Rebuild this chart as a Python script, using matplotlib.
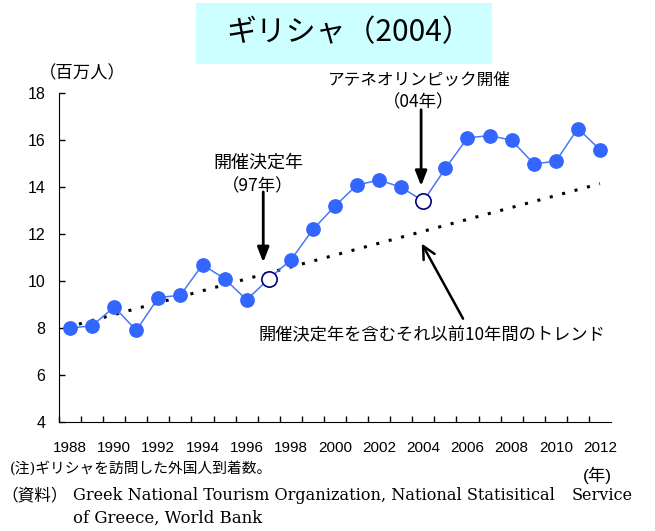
import matplotlib
matplotlib.use('Agg')
import matplotlib.pyplot as plt
from matplotlib.patches import Rectangle

# Font setup
JP_SANS = ['Liberation Sans', 'Noto Sans CJK JP']
JP_SERIF = ['DejaVu Serif', 'Noto Sans CJK JP']
CJK = ['Noto Sans CJK JP']
plt.rcParams['font.family'] = JP_SANS

# =========================
# Data (million arrivals)
# =========================
years = [1988, 1989, 1990, 1991, 1992, 1993, 1994, 1995, 1996, 1997, 1998, 1999,
         2000, 2001, 2002, 2003, 2004, 2005, 2006, 2007, 2008, 2009, 2010, 2011, 2012]
arrivals = [8.0, 8.1, 8.9, 7.9, 9.3, 9.4, 10.7, 10.1, 9.2, 10.1, 10.9, 12.2,
            13.2, 14.1, 14.3, 14.0, 13.4, 14.8, 16.1, 16.2, 16.0, 15.0, 15.1, 16.5, 15.6]
highlight_years = [1997, 2004]

# trend line (10 years up to decision year, extended)
trend_years = [1988.4, 2012]
trend_values = [8.17, 14.15]

xtick_years = list(range(1988, 2013, 2))
yticks = [4, 6, 8, 10, 12, 14, 16, 18]

# Colors
blue = '#3366FF'
line_blue = '#4A78F5'
navy = '#000080'

fig = plt.figure(figsize=(6.55, 5.31), dpi=100)
ax = fig.add_axes([0.0901, 0.2053, 0.8427, 0.619])

# trend
ax.plot(trend_years, trend_values, color='black', lw=2.2,
        linestyle=(0, (1, 3.2)), zorder=2)

# main series
ax.plot(years, arrivals, color=line_blue, lw=1.1, marker='o', ms=9.6,
        mfc=blue, mec=blue, zorder=3)

# open markers for key years
hx = [y for y in years if y in highlight_years]
hy = [v for y, v in zip(years, arrivals) if y in highlight_years]
ax.plot(hx, hy, linestyle='none', marker='o', ms=11, mfc='white',
        mec=navy, mew=1.2, zorder=4)

# Axes styling
ax.set_xlim(1987.5, 2012.5)
ax.set_ylim(4, 18)
ax.set_yticks(yticks)
ax.set_xticks(xtick_years)
ax.set_xticks([y + 0.5 for y in range(1987, 2012)], minor=True)
ax.spines['top'].set_visible(False)
ax.spines['right'].set_visible(False)
ax.tick_params(axis='y', direction='in', length=4, width=1, pad=10, labelsize=11.5)
ax.tick_params(axis='x', which='major', length=0, pad=14, labelsize=11)
ax.tick_params(axis='x', which='minor', direction='in', length=4, width=1)

# Annotations
ax.annotate('', xy=(1996.75, 10.8), xytext=(1996.75, 13.8),
            arrowprops=dict(arrowstyle='-|>,head_length=0.9,head_width=0.35',
                            color='black', lw=2, shrinkA=0, shrinkB=0,
                            mutation_scale=10))
ax.annotate('', xy=(2003.9, 14.05), xytext=(2003.9, 17.3),
            arrowprops=dict(arrowstyle='-|>,head_length=0.9,head_width=0.35',
                            color='black', lw=2, shrinkA=0, shrinkB=0,
                            mutation_scale=10))
ax.annotate('', xy=(2003.93, 11.6), xytext=(2005.8, 8.4),
            arrowprops=dict(arrowstyle='->,head_length=0.9,head_width=0.45',
                            color='black', lw=1.8, shrinkA=0, shrinkB=0,
                            mutation_scale=10))

fig.text(258 / 655, 1 - 163 / 531, '開催決定年', ha='center', va='center',
         fontsize=13, family=CJK)
fig.text(258 / 655, 1 - 186 / 531, '（97年）', ha='center', va='center',
         fontsize=12.5, family=CJK)
fig.text(419 / 655, 1 - 80 / 531, 'アテネオリンピック開催', ha='center',
         va='center', fontsize=12, family=CJK)
fig.text(419 / 655, 1 - 102 / 531, '（04年）', ha='center', va='center',
         fontsize=12.5, family=CJK)
fig.text(258 / 655, 1 - 335 / 531, '開催決定年を含むそれ以前10年間のトレンド',
         ha='left', va='center', fontsize=12.4, family=CJK)
fig.text(82 / 655, 1 - 73 / 531, '（百万人）', ha='center', va='center',
         fontsize=12.5, family=CJK)

# Title box
fig.patches.append(Rectangle((196 / 655, 1 - 64 / 531), 296 / 655, 61 / 531,
                             transform=fig.transFigure, facecolor='#CCFFFF',
                             edgecolor='none', zorder=0))
fig.text(349 / 655, 1 - 33 / 531, 'ギリシャ（2004）', ha='center', va='center',
         fontsize=21.5, family=CJK)

# Notes
fig.text(10 / 655, 1 - 468 / 531, '(注)ギリシャを訪問した外国人到着数。',
         ha='left', va='center', fontsize=10.6, family=JP_SERIF)
fig.text(597 / 655, 1 - 475 / 531, '(年)', ha='center', va='center',
         fontsize=12.5, family=JP_SANS)
fig.text(1 / 655, 1 - 496 / 531, '（資料）', ha='left', va='center',
         fontsize=12, family=CJK)
fig.text(73 / 655, 1 - 496 / 531,
         'Greek National Tourism Organization, National Statisitical',
         ha='left', va='center', fontsize=11.6, family=JP_SERIF)
fig.text(633 / 655, 1 - 496 / 531, 'Service',
         ha='right', va='center', fontsize=11.6, family=JP_SERIF)
fig.text(73 / 655, 1 - 518 / 531, 'of Greece, World Bank',
         ha='left', va='center', fontsize=11.9, family=JP_SERIF)

fig.savefig('out.png', dpi=100)
